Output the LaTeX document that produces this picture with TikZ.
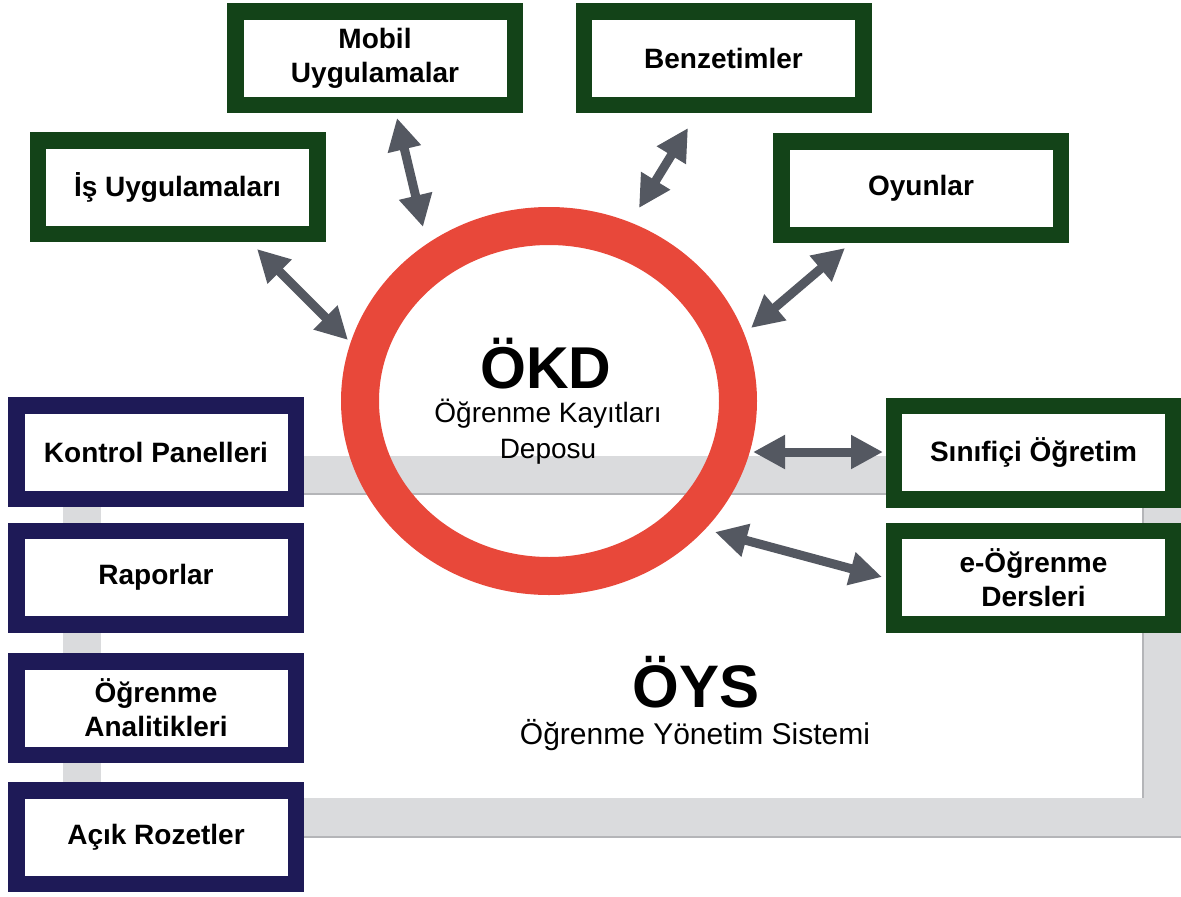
\documentclass[tikz,border=0pt]{standalone}
\usepackage{fontspec}
\setmainfont{Liberation Sans}
\usetikzlibrary{arrows.meta}
\definecolor{boxgreen}{HTML}{134318}
\definecolor{boxnavy}{HTML}{1E1A57}
\definecolor{ringred}{HTML}{E8483A}
\definecolor{arrowgrey}{HTML}{545861}
\definecolor{bandgrey}{HTML}{DADBDD}
\definecolor{bandedge}{HTML}{B4B5B8}
\tikzset{
  appbox/.style={rectangle, draw=boxgreen, fill=white, line width=16.5pt,
    minimum width=279.5pt, minimum height=93.5pt, inner sep=0pt, align=center,
    font=\bfseries\fontsize{28}{34}\selectfont},
  lmsbox/.style={appbox, draw=boxnavy},
  dbl/.style={draw=arrowgrey, line width=9pt,
    {Triangle[length=32pt,width=32pt]}-{Triangle[length=32pt,width=32pt]}},
}
\begin{document}
\begin{tikzpicture}[x=1pt,y=-1pt]
\useasboundingbox (0,0) rectangle (1181,897);

% grey LMS frame with its soft lower edges
\draw[bandgrey, line width=38.5pt] (82,475) rectangle (1162,817.5);
\draw[bandedge, line width=1.5pt] (102,494) -- (1143,494) -- (1143,798);
\draw[bandedge, line width=1.5pt] (63,837) -- (1181,837);

% learning record store
\draw[ringred, line width=38pt] (549,401) ellipse [x radius=189, y radius=175];
\node[anchor=base, font=\bfseries\fontsize{59}{60}\selectfont] (okd) at (546,388) {ÖKD};
\node[anchor=base, font=\fontsize{28}{30}\selectfont] (okdsub1) at (548,422) {Öğrenme Kayıtları};
\node[anchor=base, font=\fontsize{28}{30}\selectfont] (okdsub2) at (548,458) {Deposu};

% LMS caption
\node[anchor=base, font=\bfseries\fontsize{60}{62}\selectfont] (oys) at (696,707) {ÖYS};
\node[anchor=base, font=\fontsize{30}{32}\selectfont] (oyssub) at (695,744) {Öğrenme Yönetim Sistemi};

% activity providers around the store
\node[appbox] (is)    at (177.5,187) {İş Uygulamaları};
\node[appbox] (mobil) at (375,58)    {Mobil\\Uygulamalar};
\node[appbox] (benz)  at (723.5,58)  {Benzetimler};
\node[appbox] (oyun)  at (921,188)   {Oyunlar};
\node[appbox] (sinif) at (1033.5,452.5) {Sınıfiçi Öğretim};
\node[appbox] (eog)   at (1033.5,577.5) {e-Öğrenme\\Dersleri};

% LMS reporting side
\node[lmsbox] (kontrol) at (156,452)   {Kontrol Panelleri};
\node[lmsbox] (rapor)   at (156,577.5) {Raporlar};
\node[lmsbox] (analit)  at (156,708)   {Öğrenme\\Analitikleri};
\node[lmsbox] (rozet)   at (156,837)   {Açık Rozetler};

% arrow ends
\coordinate (is-e)    at (257,249);  \coordinate (okd-is)    at (348,340);
\coordinate (mobil-e) at (397,118);  \coordinate (okd-mobil) at (423,227);
\coordinate (benz-e)  at (688,128);  \coordinate (okd-benz)  at (639,208);
\coordinate (oyun-e)  at (845,248);  \coordinate (okd-oyun)  at (751,328);
\coordinate (sinif-e) at (883,452);  \coordinate (okd-sinif) at (753,452);
\coordinate (eog-e)   at (882,577);  \coordinate (okd-eog)   at (715,532);

\draw[dbl] (is-e) -- (okd-is);
\draw[dbl] (mobil-e) -- (okd-mobil);
\draw[dbl] (benz-e) -- (okd-benz);
\draw[dbl] (oyun-e) -- (okd-oyun);
\draw[dbl] (okd-sinif) -- (sinif-e);
\draw[dbl] (okd-eog) -- (eog-e);
\end{tikzpicture}
\end{document}
